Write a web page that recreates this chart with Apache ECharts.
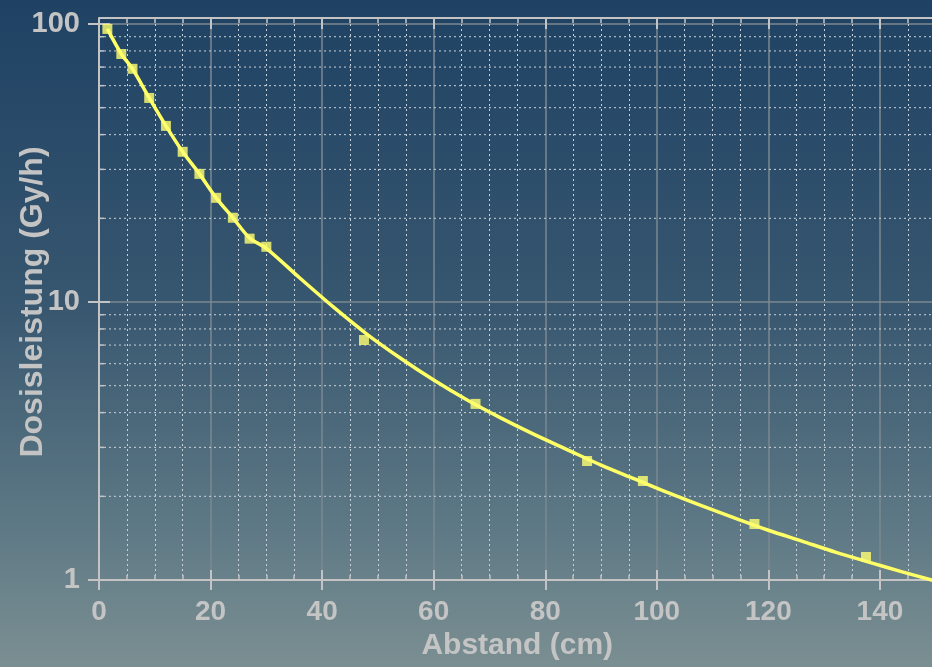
<!DOCTYPE html>
<html>
<head>
<meta charset="utf-8">
<script src="https://cdn.jsdelivr.net/npm/echarts@6/dist/echarts.min.js"></script>
<style>
  html, body { margin: 0; padding: 0; }
  #chart { width: 932px; height: 667px; }
</style>
</head>
<body>
<div id="chart"></div>
<script>
// Messpunkte (Abstand in cm, Dosisleistung in Gy/h)
const abstand = [1.5, 4, 6, 9, 12, 15, 18, 21, 24, 27, 30, 47.5, 67.5, 87.5, 97.5, 117.5, 137.5];
const dosis = [96, 78, 69, 54.2, 43, 34.7, 28.9, 23.7, 20.1, 16.9, 15.8, 7.3, 4.3, 2.68, 2.27, 1.59, 1.21];

// Ausgleichskurve
const kurveX = [1.5, 4, 6, 9, 12, 15, 18, 21, 24, 27, 30, 36, 42, 48, 54, 60, 66, 72, 78, 84, 90, 96, 102, 108, 114, 120, 126, 132, 138, 144, 150];
const kurveY = [96, 78, 69, 54.2, 43, 34.7, 28.9, 23.7, 20.1, 17.0, 15.6, 12.2, 9.6, 7.67, 6.29, 5.24, 4.44, 3.83, 3.34, 2.94, 2.59, 2.31, 2.06, 1.85, 1.67, 1.51, 1.38, 1.26, 1.16, 1.07, 0.99];

// Nebenteilung der log. Achse
const yMinor = [2, 3, 4, 5, 6, 7, 8, 9, 20, 30, 40, 50, 60, 70, 80, 90];

const xMin = 0, xMax = 160;
const grau = "#c4c4c4";
const font = "Liberation Sans, Arial, sans-serif";

var myChart = echarts.init(document.getElementById("chart"));

var option = {
  animation: false,
  backgroundColor: {
    type: "linear", x: 0, y: 0, x2: 0, y2: 1,
    colorStops: [
      { offset: 0, color: "#1f4264" },
      { offset: 0.45, color: "#37566f" },
      { offset: 0.8, color: "#5f7a86" },
      { offset: 1, color: "#7b8f92" },
    ],
  },
  grid: { left: 99, top: 24, width: 892.5, height: 556, containLabel: false, outerBoundsMode: "none" },
  xAxis: [
    {
      type: "value", min: xMin, max: xMax, interval: 20,
      name: "Abstand (cm)", nameLocation: "middle", nameGap: 51, nameMoveOverlap: false,
      nameTextStyle: { color: grau, fontSize: 30, fontWeight: "bold", fontFamily: font, padding: [0, 56, 0, 0] },
      axisLine: { lineStyle: { color: grau, width: 2 } },
      axisTick: { inside: true, length: 10, lineStyle: { color: grau, width: 2 } },
      minorTick: { show: true, splitNumber: 4, length: 5, lineStyle: { color: grau, width: 1.5 } },
      axisLabel: { color: grau, fontSize: 28, fontWeight: "bold", fontFamily: font, margin: 18 },
      splitLine: { show: true, lineStyle: { color: "#7d8891", width: 1.5 } },
      minorSplitLine: { show: true, lineStyle: { color: "#c9d2da", width: 1, type: [2, 3] } },
    },
    {
      type: "value", min: xMin, max: xMax, interval: 20, position: "top", offset: 6,
      axisLine: { lineStyle: { color: grau, width: 2 } },
      axisTick: { inside: true, length: 11, lineStyle: { color: grau, width: 2 } },
      minorTick: { show: true, splitNumber: 4, length: 5, lineStyle: { color: grau, width: 1.5 } },
      axisLabel: { show: false },
      splitLine: { show: false },
    },
    {
      type: "value", min: xMin, max: xMax, interval: 20, position: "bottom",
      axisLine: { show: false },
      axisTick: { inside: false, length: 10, lineStyle: { color: grau, width: 2 } },
      axisLabel: { show: false },
      splitLine: { show: false },
    },
  ],
  yAxis: [
    {
      type: "log", logBase: 10, min: 1, max: 100,
      name: "Dosisleistung (Gy/h)", nameLocation: "middle", nameGap: 50, nameMoveOverlap: false,
      nameTextStyle: { color: grau, fontSize: 32, fontWeight: "bold", fontFamily: font },
      axisLine: { show: true, lineStyle: { color: grau, width: 2 } },
      axisTick: { show: true, inside: true, length: 11, lineStyle: { color: grau, width: 2 } },
      axisLabel: { color: grau, fontSize: 29, fontWeight: "bold", fontFamily: font, margin: 19 },
      splitLine: { show: true, lineStyle: { color: "#7d8891", width: 1.5 } },
    },
    {
      type: "log", logBase: 10, min: 1, max: 100, position: "left",
      axisLine: { show: false },
      axisTick: { show: true, inside: false, length: 11, lineStyle: { color: grau, width: 2 } },
      axisLabel: { show: false },
      splitLine: { show: false },
    },
  ],
  series: [
    {
      // gepunktete Nebengitterlinien + kleine Striche der log. Achse
      type: "custom",
      z: 1,
      silent: true,
      data: yMinor.map((v) => [xMin, v]),
      renderItem: function (params, api) {
        const v = api.value(1);
        const p0 = api.coord([xMin, v]);
        const p1 = api.coord([xMax, v]);
        return {
          type: "group",
          children: [
            {
              type: "line",
              shape: { x1: p0[0], y1: p0[1], x2: p1[0], y2: p1[1] },
              style: { stroke: "#c9d2da", lineWidth: 1, lineDash: [2, 3] },
            },
            {
              type: "line",
              shape: { x1: p0[0], y1: p0[1], x2: p0[0] + 5, y2: p0[1] },
              style: { stroke: grau, lineWidth: 1.5 },
            },
          ],
        };
      },
    },
    {
      name: "Kurve",
      type: "line",
      z: 3,
      smooth: 0.3,
      showSymbol: false,
      clip: false,
      data: kurveX.map((x, i) => [x, kurveY[i]]),
      lineStyle: { color: "#ffff66", width: 3.5 },
    },
    {
      name: "Messwerte",
      type: "scatter",
      z: 4,
      symbol: "rect",
      symbolSize: 10,
      data: abstand.map((x, i) => [x, dosis[i]]),
      itemStyle: { color: "#ffff70" },
    },
  ],
};

myChart.setOption(option);
</script>
</body>
</html>
